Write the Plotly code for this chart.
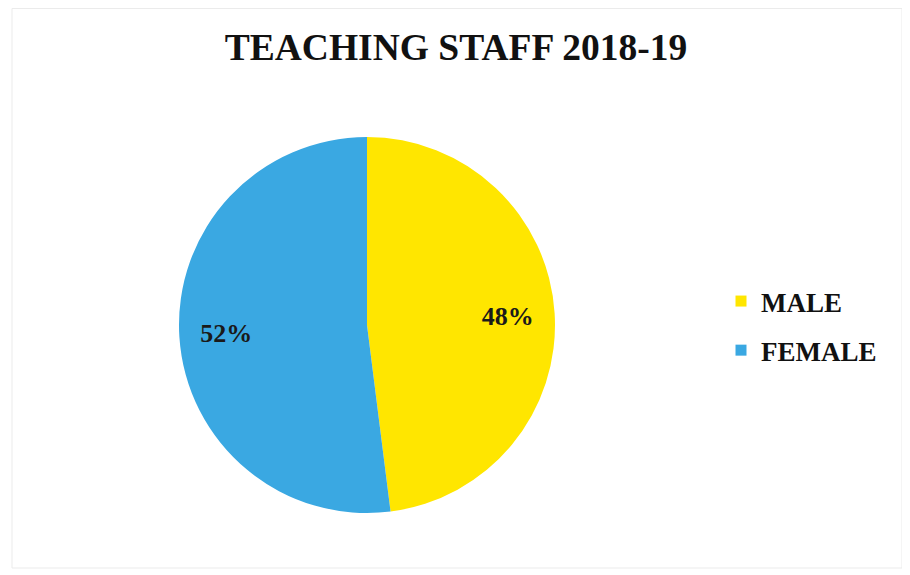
import plotly.graph_objects as go

labels = ["MALE", "FEMALE"]
values = [48, 52]
colors = ["#FFE600", "#3AA8E2"]
title_text = "TEACHING STAFF 2018-19"

# page body adds an 8px offset; positions below are in figure pixels
W, H = 910, 575
cx, cy, r = 359, 317, 188
dom = dict(x=[(cx - r) / W, (cx + r) / W], y=[1 - (cy + r) / H, 1 - (cy - r) / H])

fig = go.Figure()
# the pie itself
fig.add_trace(go.Pie(
    labels=labels, values=values, sort=False, direction="clockwise", rotation=0,
    marker=dict(colors=colors, line=dict(width=0)),
    textinfo="none", domain=dom, showlegend=False, hoverinfo="label+percent",
))
# transparent ring carrying the percentage labels at ~3/4 radius
fig.add_trace(go.Pie(
    labels=labels, values=values, sort=False, direction="clockwise", rotation=0,
    hole=0.5,
    marker=dict(colors=["rgba(0,0,0,0)"] * len(labels), line=dict(width=0)),
    texttemplate="<b>%{percent:.0%}</b>", textposition="inside",
    insidetextorientation="horizontal",
    insidetextfont=dict(family="Liberation Serif", size=26, color="#1a1a1a"),
    domain=dom, showlegend=False, hoverinfo="skip",
))
# legend entries
for lab, col in zip(labels, colors):
    fig.add_trace(go.Scatter(
        x=[None], y=[None], mode="markers", name="<b>" + lab + "</b>",
        legendgroup=lab,
        marker=dict(symbol="square", size=11, color=col),
    ))

fig.update_layout(
    width=W, height=H,
    margin=dict(l=0, r=0, t=0, b=0),
    paper_bgcolor="white",
    plot_bgcolor="white",
    xaxis=dict(visible=False), yaxis=dict(visible=False),
    title=dict(text="<b>" + title_text + "</b>", x=(456 - 8) / W, xanchor="center",
               y=1 - 39 / H, yanchor="middle",
               font=dict(family="Liberation Serif", size=37.5, color="#111111")),
    legend=dict(x=713 / W, xanchor="left", y=1 - 318 / H, yanchor="middle",
                font=dict(family="Liberation Serif", size=27, color="#111111"),
                tracegroupgap=11, itemwidth=30, bgcolor="rgba(0,0,0,0)"),
    showlegend=True,
    shapes=[dict(type="rect", xref="paper", yref="paper",
                 x0=4 / W, x1=894 / W, y0=1 - 560 / H, y1=1 - 0.5 / H,
                 line=dict(color="#ebebeb", width=1))],
)

fig.write_html("out.html")
